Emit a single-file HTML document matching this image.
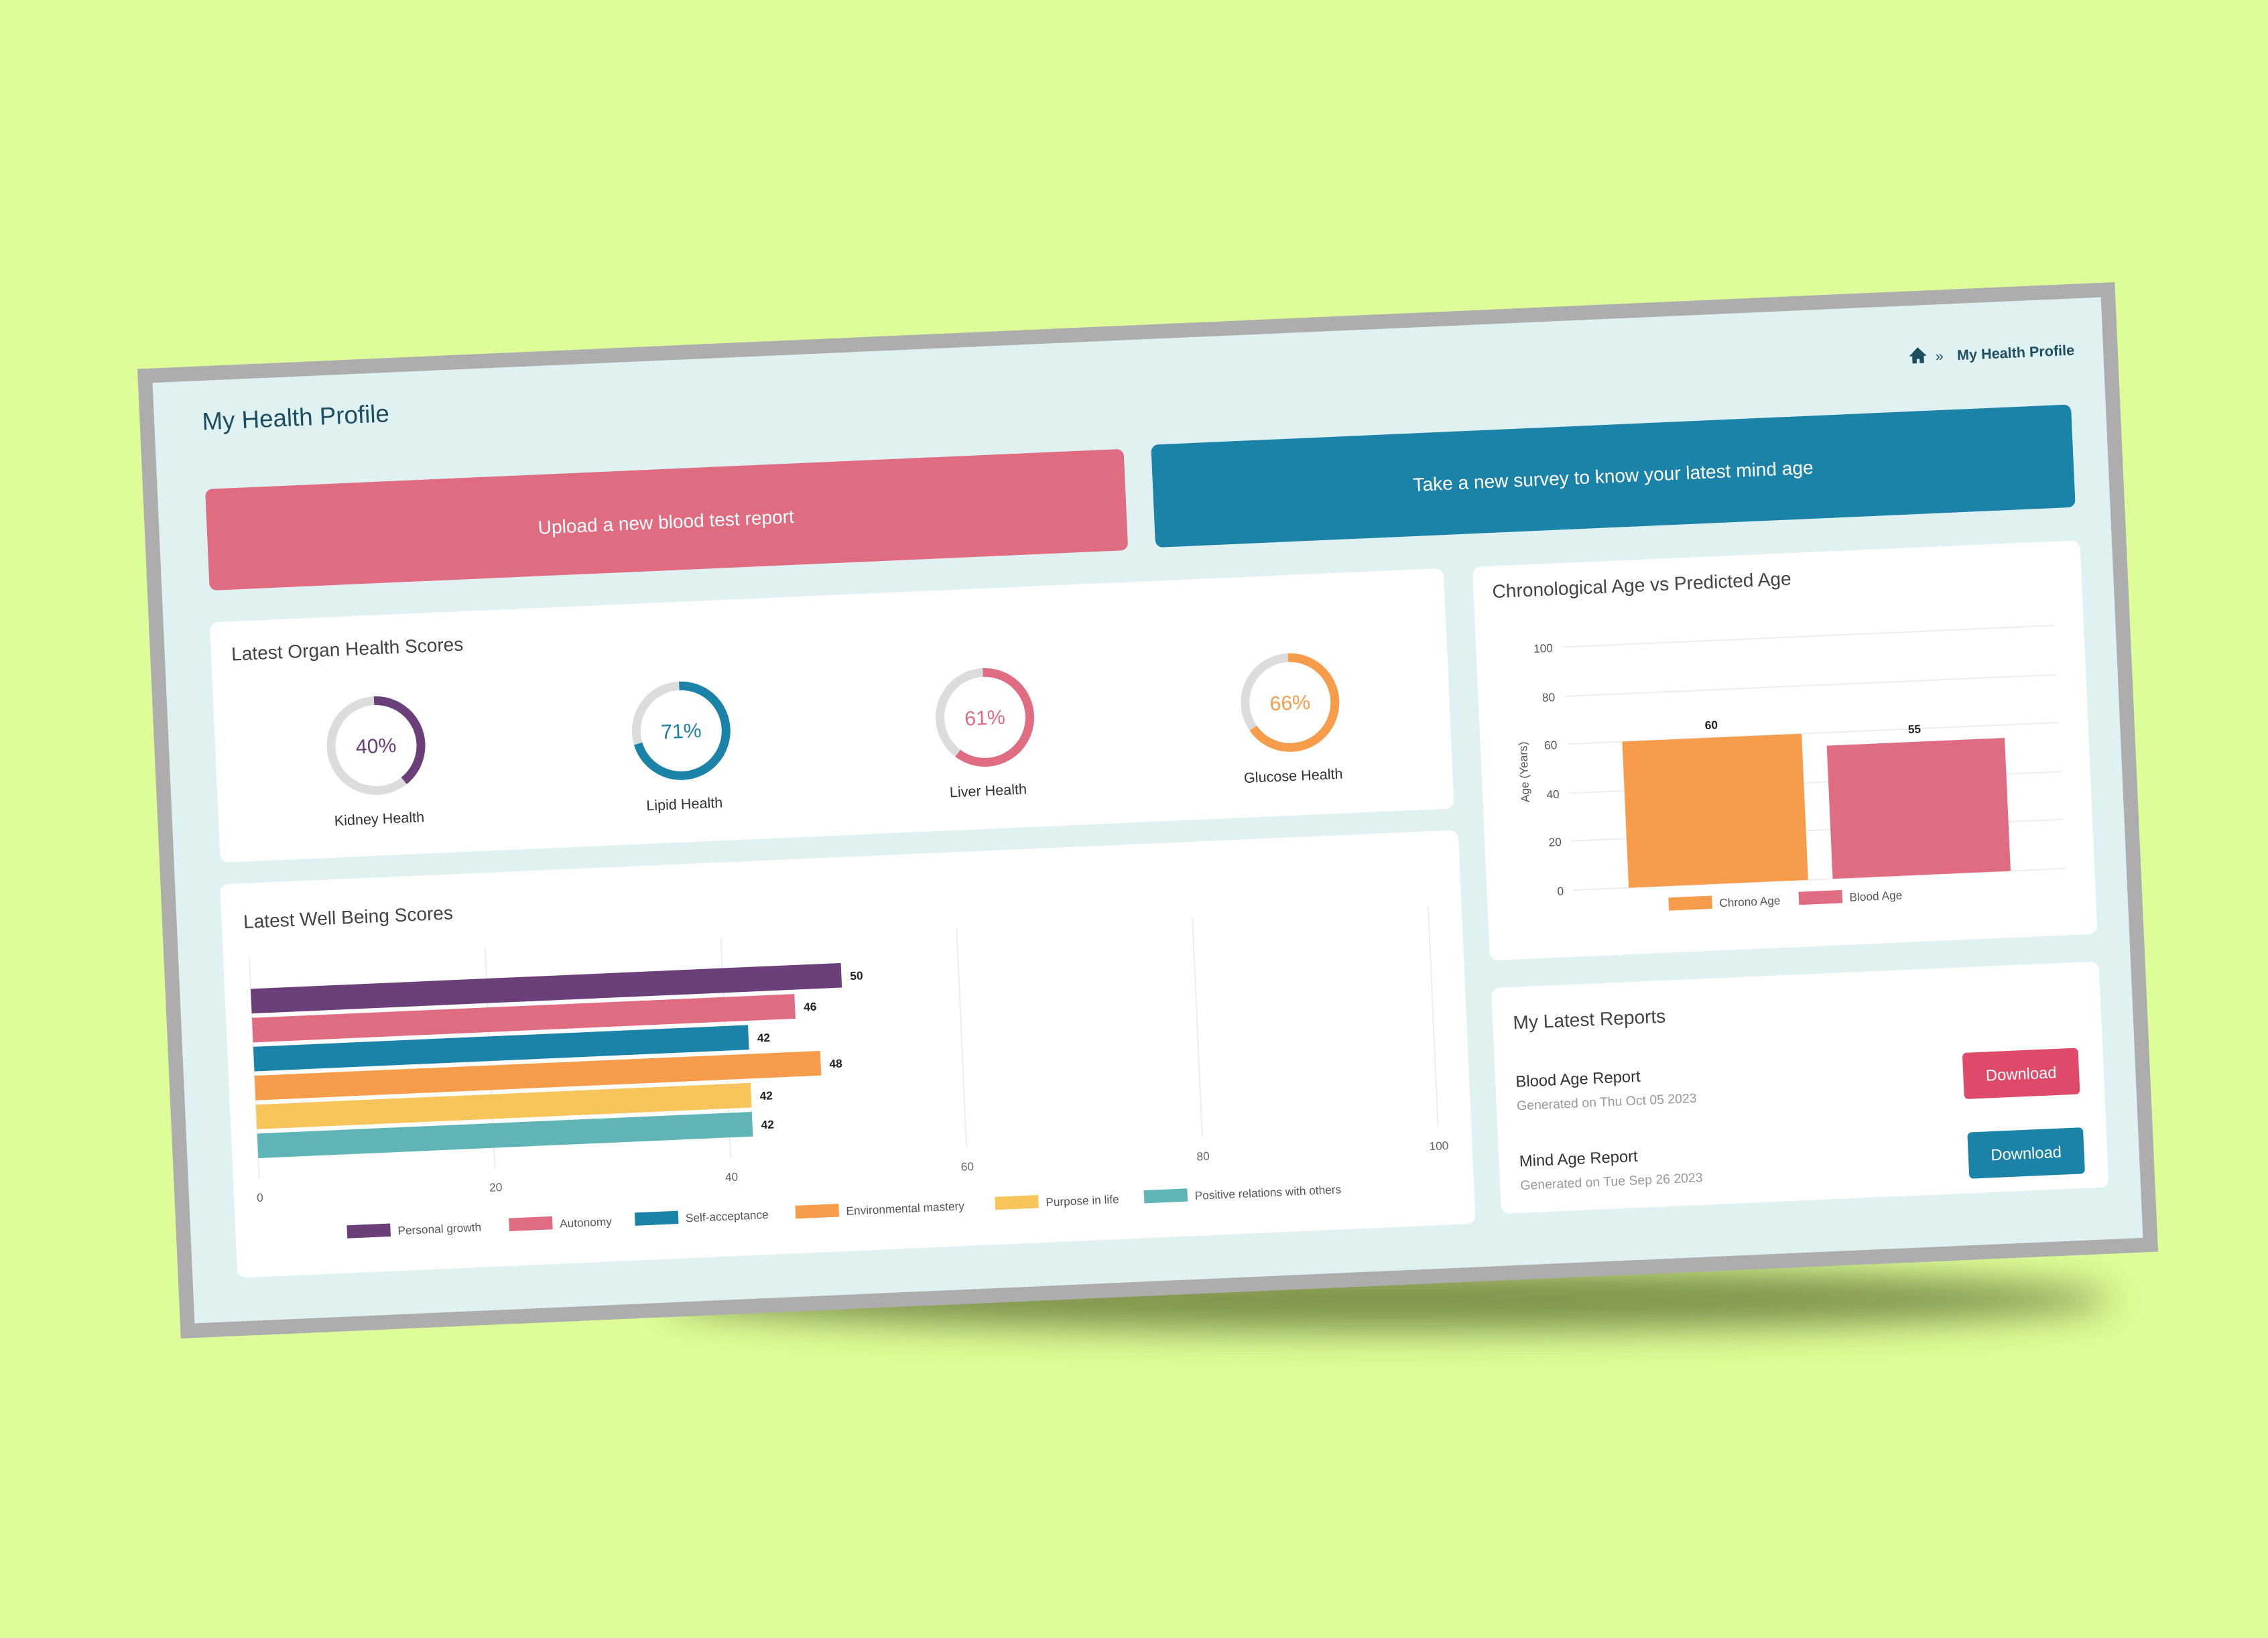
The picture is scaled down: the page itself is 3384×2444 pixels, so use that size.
<!DOCTYPE html>
<html><head><meta charset="utf-8"><style>
html,body{margin:0;padding:0;background:#dcfd97;}
svg{display:block;}
text{font-family:"Liberation Sans",sans-serif;}
</style></head><body>
<svg width="3384" height="2444" viewBox="0 0 1568 1132" preserveAspectRatio="none" xmlns="http://www.w3.org/2000/svg">
<defs>
<filter id="bl" x="-20%" y="-200%" width="140%" height="500%"><feGaussianBlur stdDeviation="12"/></filter>
<filter id="cs" x="-5%" y="-5%" width="110%" height="110%"><feGaussianBlur stdDeviation="1.5"/></filter>
</defs>
<rect width="1568" height="1132" fill="#dcfd97"/>
<ellipse cx="960" cy="898" rx="500" ry="22" fill="#5f7035" opacity="0.75" filter="url(#bl)"/>
<g transform="matrix(1,-0.0439,0.0448,1,95,255)">
 <rect x="0" y="0" width="1367" height="670" fill="#adadad"/>
 <rect x="10" y="10" width="1347" height="650" fill="#e0f1f2"/>
 <text x="43" y="44" font-size="17" fill="#1d4e5f">My Health Profile</text>
 <!-- breadcrumb -->
 <path d="M1223 45 l6 -6 l6 6 h-2 v5 h-3 v-3 h-2 v3 h-3 v-5z" fill="#1d4e5f"/>
 <text x="1241" y="49" font-size="10" fill="#1d4e5f">»</text>
 <text x="1256" y="49" font-size="10" font-weight="bold" fill="#1d4e5f">My Health Profile</text>
 <!-- buttons -->
 <rect x="43" y="85" width="635" height="70" rx="5" fill="#e06c82"/>
 <text x="360" y="126" font-size="13" fill="#fff" text-anchor="middle">Upload a new blood test report</text>
 <rect x="697" y="83" width="636" height="71" rx="5" fill="#1b82a8"/>
 <text x="1015" y="123" font-size="13" fill="#fff" text-anchor="middle">Take a new survey to know your latest mind age</text>
 <!-- organ card -->
 <rect x="42" y="177" width="853" height="166" rx="6" fill="#fff"/>
 <text x="56" y="204" font-size="13" fill="#444">Latest Organ Health Scores</text>
 <g font-size="14" text-anchor="middle">
  <circle cx="153" cy="267" r="31" fill="none" stroke="#dcdcdc" stroke-width="6"/>
  <circle cx="153" cy="267" r="31" fill="none" stroke="#6b3f7a" stroke-width="6" stroke-dasharray="77.9 200" transform="rotate(-90 153 267)"/>
  <text x="153" y="272" fill="#6b3f7a">40%</text>
  <text x="153" y="321" font-size="10" fill="#333">Kidney Health</text>
  <circle cx="364" cy="266" r="31" fill="none" stroke="#dcdcdc" stroke-width="6"/>
  <circle cx="364" cy="266" r="31" fill="none" stroke="#1b82a8" stroke-width="6" stroke-dasharray="138.3 200" transform="rotate(-90 364 266)"/>
  <text x="364" y="271" fill="#1b82a8">71%</text>
  <text x="364" y="320" font-size="10" fill="#333">Lipid Health</text>
  <circle cx="574" cy="266" r="31" fill="none" stroke="#dcdcdc" stroke-width="6"/>
  <circle cx="574" cy="266" r="31" fill="none" stroke="#e06c82" stroke-width="6" stroke-dasharray="118.8 200" transform="rotate(-90 574 266)"/>
  <text x="574" y="271" fill="#e06c82">61%</text>
  <text x="574" y="320" font-size="10" fill="#333">Liver Health</text>
  <circle cx="785" cy="265" r="31" fill="none" stroke="#dcdcdc" stroke-width="6"/>
  <circle cx="785" cy="265" r="31" fill="none" stroke="#f79c4a" stroke-width="6" stroke-dasharray="128.6 200" transform="rotate(-90 785 265)"/>
  <text x="785" y="270" fill="#f79c4a">66%</text>
  <text x="785" y="319" font-size="10" fill="#333">Glucose Health</text>
 </g>
 <!-- wellbeing card -->
 <rect x="41" y="358" width="856" height="272" rx="6" fill="#fff"/>
 <text x="56" y="389" font-size="13" fill="#444">Latest Well Being Scores</text>
 <g stroke="#eee" stroke-width="1">
  <line x1="59" y1="410" x2="59" y2="562"/><line x1="222" y1="410" x2="222" y2="562"/><line x1="385" y1="410" x2="385" y2="562"/>
  <line x1="548" y1="410" x2="548" y2="562"/><line x1="711" y1="410" x2="711" y2="562"/><line x1="874" y1="410" x2="874" y2="562"/>
 </g>
 <g>
  <rect x="59" y="431" width="408" height="17" fill="#6b3f7a"/>
  <rect x="59" y="451" width="375" height="17" fill="#e06c82"/>
  <rect x="59" y="471" width="342" height="17" fill="#1b82a8"/>
  <rect x="59" y="491" width="391" height="17" fill="#f79c4a"/>
  <rect x="59" y="511" width="342" height="17" fill="#f7c55a"/>
  <rect x="59" y="531" width="342" height="17" fill="#5fb5b5"/>
 </g>
 <g font-size="8" font-weight="bold" fill="#222">
  <text x="473" y="443">50</text><text x="440" y="463">46</text><text x="407" y="483">42</text>
  <text x="456" y="503">48</text><text x="407" y="523">42</text><text x="407" y="543">42</text>
 </g>
 <g font-size="8" fill="#666" text-anchor="middle">
  <text x="59" y="578">0</text><text x="222" y="578">20</text><text x="385" y="578">40</text>
  <text x="548" y="578">60</text><text x="711" y="578">80</text><text x="874" y="578">100</text>
 </g>
 <g font-size="8" fill="#555">
  <rect x="118" y="597" width="30" height="9" fill="#6b3f7a"/><text x="153" y="605">Personal growth</text>
  <rect x="230" y="597" width="30" height="9" fill="#e06c82"/><text x="265" y="605">Autonomy</text>
  <rect x="317" y="597" width="30" height="9" fill="#1b82a8"/><text x="352" y="605">Self-acceptance</text>
  <rect x="428" y="597" width="30" height="9" fill="#f79c4a"/><text x="463" y="605">Environmental mastery</text>
  <rect x="566" y="597" width="30" height="9" fill="#f7c55a"/><text x="601" y="605">Purpose in life</text>
  <rect x="669" y="597" width="30" height="9" fill="#5fb5b5"/><text x="704" y="605">Positive relations with others</text>
 </g>
 <!-- chrono card -->
 <rect x="915" y="177" width="420" height="272" rx="6" fill="#fff"/>
 <text x="928" y="199" font-size="13" fill="#444">Chronological Age vs Predicted Age</text>
 <g stroke="#eee"><line x1="975" y1="235" x2="1315" y2="235"/><line x1="975" y1="269" x2="1315" y2="269"/><line x1="975" y1="302" x2="1315" y2="302"/><line x1="975" y1="336" x2="1315" y2="336"/><line x1="975" y1="369" x2="1315" y2="369"/><line x1="975" y1="403" x2="1315" y2="403"/></g>
 <g font-size="8" fill="#555" text-anchor="end">
  <text x="968" y="238">100</text><text x="968" y="272">80</text><text x="968" y="305">60</text><text x="968" y="339">40</text><text x="968" y="372">20</text><text x="968" y="406">0</text>
 </g>
 <text x="0" y="0" font-size="8" fill="#555" text-anchor="middle" transform="translate(947 320) rotate(-90)">Age (Years)</text>
 <rect x="1013" y="302" width="124" height="101" fill="#f79c4a"/>
 <rect x="1154" y="311" width="123" height="92" fill="#e06c82"/>
 <text x="1075" y="296" font-size="8" font-weight="bold" text-anchor="middle" fill="#222">60</text>
 <text x="1215" y="305" font-size="8" font-weight="bold" text-anchor="middle" fill="#222">55</text>
 <g font-size="8" fill="#555">
  <rect x="1040" y="411" width="30" height="9" fill="#f79c4a"/><text x="1075" y="419">Chrono Age</text>
  <rect x="1130" y="411" width="30" height="9" fill="#e06c82"/><text x="1165" y="419">Blood Age</text>
 </g>
 <!-- reports -->
 <rect x="915" y="468" width="420" height="156" rx="6" fill="#fff"/>
 <text x="929" y="497" font-size="13" fill="#444">My Latest Reports</text>
 <text x="929" y="537" font-size="11" fill="#333">Blood Age Report</text>
 <text x="929" y="553" font-size="9" fill="#999">Generated on Thu Oct 05 2023</text>
 <text x="929" y="592" font-size="11" fill="#333">Mind Age Report</text>
 <text x="929" y="608" font-size="9" fill="#999">Generated on Tue Sep 26 2023</text>
 <rect x="1238" y="527" width="80" height="32" rx="3" fill="#e04a6a"/>
 <text x="1278" y="547" font-size="11" fill="#fff" text-anchor="middle">Download</text>
 <rect x="1239" y="582" width="80" height="32" rx="3" fill="#1b82a8"/>
 <text x="1279" y="602" font-size="11" fill="#fff" text-anchor="middle">Download</text>
</g>
</svg>
</body></html>
